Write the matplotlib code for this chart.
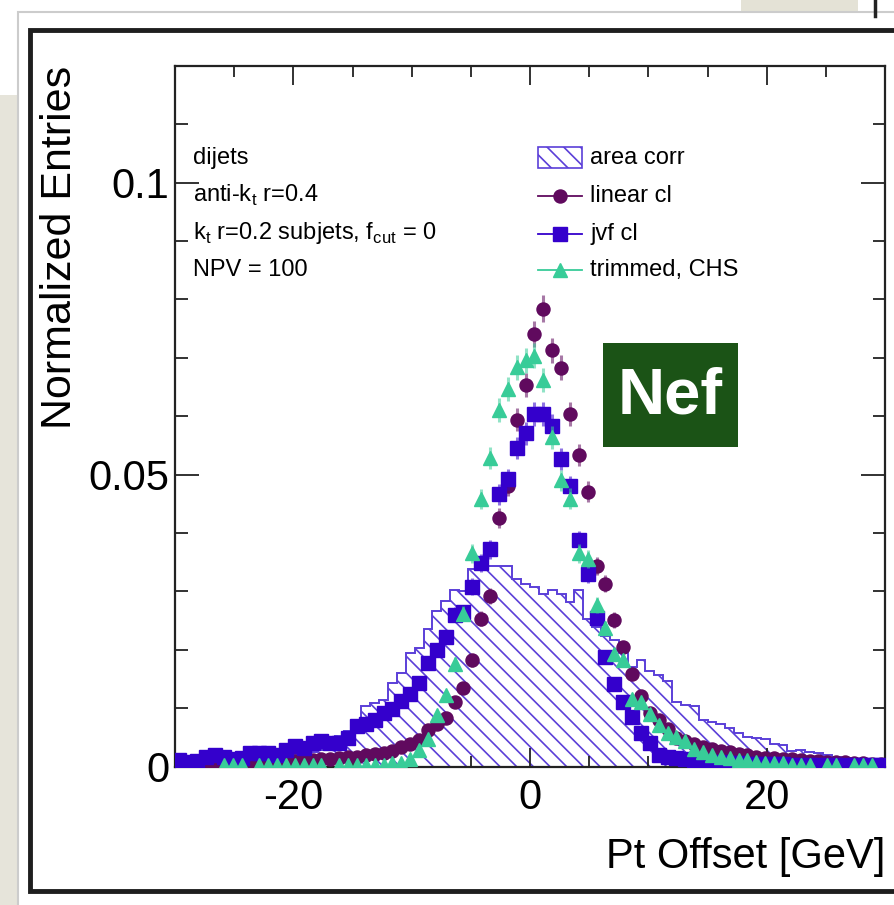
import numpy as np
import matplotlib
matplotlib.use("Agg")
import matplotlib.pyplot as plt
from matplotlib.patches import Rectangle
from matplotlib.lines import Line2D
from matplotlib.colors import to_rgba

plt.rcParams['font.family'] = ['Liberation Sans', 'DejaVu Sans']
plt.rcParams['mathtext.fontset'] = 'custom'
plt.rcParams['mathtext.rm'] = 'Liberation Sans'
plt.rcParams['hatch.linewidth'] = 1.2
plt.rcParams['axes.unicode_minus'] = False

# ---- binning: 80 bins of 0.75 GeV over [-30, 30] ----
bin_edges = np.linspace(-30, 30, 81)
bin_centers = 0.5 * (bin_edges[:-1] + bin_edges[1:])

area_corr = [
    0.0006, 0.0006, 0.0007, 0.0008, 0.0008, 0.0009, 0.0010, 0.0011, 0.0012, 0.0013,
    0.0014, 0.0015, 0.0017, 0.0019, 0.0020, 0.0025, 0.0029, 0.0042, 0.0053, 0.0060,
    0.0080, 0.0103, 0.0109, 0.0114, 0.0143, 0.0160, 0.0194, 0.0203, 0.0235, 0.0266,
    0.0283, 0.0303, 0.0300, 0.0338, 0.0338, 0.0343, 0.0344, 0.0344, 0.0322, 0.0312,
    0.0307, 0.0296, 0.0303, 0.0296, 0.0281, 0.0302, 0.0252, 0.0239, 0.0224, 0.0217,
    0.0194, 0.0170, 0.0182, 0.0163, 0.0156, 0.0146, 0.0111, 0.0106, 0.0104, 0.0080,
    0.0076, 0.0073, 0.0066, 0.0058, 0.0051, 0.0048, 0.0047, 0.0039, 0.0037, 0.0027,
    0.0028, 0.0024, 0.0023, 0.0020, 0.0016, 0.0014, 0.0012, 0.0010, 0.0008, 0.0007,
]

linear_cl = [
    0.0005, 0.0004, 0.0005, 0.0006, 0.0006, 0.0007, 0.0008, 0.0007, 0.0008, 0.0008,
    0.0009, 0.0009, 0.0010, 0.0010, 0.0011, 0.0011, 0.0012, 0.0013, 0.0014, 0.0016,
    0.0017, 0.0019, 0.0021, 0.0023, 0.0027, 0.0033, 0.0039, 0.0046, 0.0062, 0.0073,
    0.0083, 0.0110, 0.0134, 0.0182, 0.0253, 0.0292, 0.0426, 0.0481, 0.0594, 0.0654,
    0.0741, 0.0784, 0.0713, 0.0683, 0.0604, 0.0534, 0.0471, 0.0344, 0.0313, 0.0251,
    0.0204, 0.0158, 0.0121, 0.0091, 0.0080, 0.0064, 0.0048, 0.0043, 0.0038, 0.0034,
    0.0030, 0.0027, 0.0024, 0.0021, 0.0019, 0.0017, 0.0015, 0.0014, 0.0013, 0.0012,
    0.0011, 0.0010, 0.0009, 0.0008, 0.0008, 0.0007, 0.0006, 0.0006, 0.0005, 0.0005,
]

jvf_cl = [
    0.0011, 0.0008, 0.0009, 0.0016, 0.0020, 0.0017, 0.0013, 0.0015, 0.0023, 0.0023,
    0.0023, 0.0020, 0.0028, 0.0035, 0.0031, 0.0040, 0.0043, 0.0041, 0.0040, 0.0048,
    0.0070, 0.0072, 0.0080, 0.0092, 0.0098, 0.0112, 0.0125, 0.0143, 0.0178, 0.0200,
    0.0222, 0.0260, 0.0264, 0.0308, 0.0349, 0.0372, 0.0466, 0.0492, 0.0545, 0.0571,
    0.0604, 0.0604, 0.0584, 0.0527, 0.0480, 0.0388, 0.0329, 0.0255, 0.0188, 0.0142,
    0.0110, 0.0085, 0.0057, 0.0040, 0.0020, 0.0016, 0.0014, 0.0012, 0.0011, 0.0009,
    0.0008, 0.0007, 0.0006, 0.0006, 0.0005, 0.0005, 0.0004, 0.0004, 0.0004, 0.0003,
    0.0003, 0.0003, 0.0003, 0.0002, 0.0002, 0.0003, 0.0002, 0.0002, 0.0002, 0.0002,
]

trimmed_chs = [
    0.0, 0.0, 0.0, 0.0, 0.0, 0.0003, 0.0003, 0.0003, 0.0, 0.0003,
    0.0003, 0.0003, 0.0003, 0.0003, 0.0003, 0.0003, 0.0003, 0.0, 0.0003, 0.0003,
    0.0003, 0.0003, 0.0003, 0.0003, 0.0006, 0.0006, 0.0012, 0.0028, 0.0047, 0.0088,
    0.0122, 0.0176, 0.0262, 0.0365, 0.0458, 0.0528, 0.0611, 0.0647, 0.0684, 0.0696,
    0.0704, 0.0662, 0.0564, 0.0490, 0.0459, 0.0365, 0.0356, 0.0276, 0.0237, 0.0192,
    0.0182, 0.0115, 0.0111, 0.0090, 0.0071, 0.0058, 0.0050, 0.0043, 0.0030, 0.0025,
    0.0020, 0.0017, 0.0014, 0.0011, 0.0011, 0.0008, 0.0006, 0.0006, 0.0006, 0.0003,
    0.0003, 0.0003, 0.0, 0.0003, 0.0003, 0.0, 0.0003, 0.0003, 0.0003, 0.0,
]

series_labels = ["area corr", "linear cl", "jvf cl", "trimmed, CHS"]
info_lines = ["dijets", r"anti-k$_{\mathregular{t}}$ r=0.4",
              r"k$_{\mathregular{t}}$ r=0.2 subjets, f$_{\mathregular{cut}}$ = 0",
              "NPV = 100"]
x_ticks = [-20, 0, 20]
y_ticks = [0, 0.05, 0.1]
y_tick_labels = ["0", "0.05", "0.1"]

c_area = '#5b3fd8'
c_lin = '#600a5e'
c_jvf = '#3400cc'
c_trim = '#38cc98'
HATCH = '\\\\'

n_entries = 15000.0  # sets the statistical error bar size

W, H = 894, 905
fig = plt.figure(figsize=(W / 100, H / 100), dpi=100)

# page decoration in pixel coordinates
bg = fig.add_axes([0, 0, 1, 1], zorder=0)
bg.set_xlim(0, W)
bg.set_ylim(H, 0)
bg.axis('off')
bg.add_patch(Rectangle((0, 95), 22, 810, facecolor='#e6e4da', edgecolor='none'))
bg.add_patch(Rectangle((741, 0), 117, 15, facecolor='#e4e2d6', edgecolor='none'))
bg.plot([875, 875], [0, 16], color='#222222', lw=2.5)
bg.add_patch(Rectangle((18, 12), 900, 900, facecolor='white', edgecolor='#cccccc', lw=1.5))
bg.add_patch(Rectangle((30, 30), 900, 861, facecolor='white', edgecolor='#1e1e1e', lw=3.5))

L, R, T, B = 175, 885, 66, 766.5
ax = fig.add_axes([L / W, 1 - B / H, (R - L) / W, (B - T) / H], zorder=2)
ax.set_xlim(-30, 30)
ax.set_ylim(0, 0.12)

ax.stairs(area_corr, bin_edges, fill=True, facecolor='none', edgecolor=c_area,
          hatch=HATCH, linewidth=1.4, zorder=1)


def draw_points(vals, color, marker, ms, z):
    v = np.asarray(vals, dtype=float)
    m = v > 0
    err = np.sqrt(v[m] / n_entries)
    ax.errorbar(bin_centers[m], v[m], yerr=err, fmt=marker, color=color, ms=ms,
                mec=color, mfc=color, ecolor=to_rgba(color, 0.55), elinewidth=2.2,
                capsize=0, zorder=z)


draw_points(linear_cl, c_lin, 'o', 9.4, 3)
draw_points(jvf_cl, c_jvf, 's', 9.6, 4)
draw_points(trimmed_chs, c_trim, '^', 9.6, 5)

ax.set_xticks(x_ticks)
ax.set_xticks(np.arange(-25, 30, 5), minor=True)
ax.set_yticks(y_ticks)
ax.set_yticklabels(y_tick_labels)
ax.set_yticks(np.arange(0, 0.121, 0.01), minor=True)
ax.tick_params(which='both', direction='in', top=True, right=True, width=1.3,
               colors='#222222', labelcolor='black', labelsize=30)
ax.tick_params(axis='x', which='major', length=14, pad=8)
ax.tick_params(axis='x', which='minor', length=8)
ax.tick_params(axis='y', which='major', length=17, pad=4)
ax.tick_params(axis='y', which='minor', length=9)
for s in ax.spines.values():
    s.set_linewidth(1.6)
    s.set_color('#222222')

ax.set_xlabel("Pt Offset [GeV]", fontsize=30, loc='right', labelpad=14)
fig.text(60 / W, 1 - 66 / H, "Normalized Entries", rotation=90, fontsize=31,
         ha='center', va='top')


def axfrac(px, py):
    return (px - L) / (R - L), (B - py) / (B - T)


# info text block
for i, line in enumerate(info_lines):
    x, y = axfrac(193, 158 + 37.5 * i)
    ax.text(x, y, line, transform=ax.transAxes, fontsize=17, ha='left',
            va='center', zorder=6)

# legend
ys = [158, 196, 234, 270]
x0, y0 = axfrac(538, 168)
x1, y1 = axfrac(582, 147)
ax.add_patch(Rectangle((x0, y0), x1 - x0, y1 - y0, transform=ax.transAxes,
                       facecolor='none', edgecolor=c_area, hatch=HATCH, lw=1.2,
                       zorder=6))
for (col, mk), yy in zip([(c_lin, 'o'), (c_jvf, 's'), (c_trim, '^')], ys[1:]):
    xa, ya = axfrac(538, yy)
    xb, _ = axfrac(582, yy)
    xm, _ = axfrac(560, yy)
    ax.add_line(Line2D([xa, xb], [ya, ya], color=col, lw=1.3, transform=ax.transAxes,
                       zorder=6))
    ax.add_line(Line2D([xm], [ya], marker=mk, ms=9.4, color=col, transform=ax.transAxes,
                       zorder=7, ls='none'))
for lab, yy in zip(series_labels, ys):
    x, y = axfrac(590, yy)
    ax.text(x, y, lab, transform=ax.transAxes, fontsize=17, ha='left', va='center',
            zorder=6)

# Nef badge
fg = fig.add_axes([0, 0, 1, 1], zorder=5)
fg.set_xlim(0, W)
fg.set_ylim(H, 0)
fg.axis('off')
fg.patch.set_alpha(0)
fg.add_patch(Rectangle((603, 343), 135, 104, facecolor='#1b5316', edgecolor='none'))
fg.text(670.5, 396, "Nef", color='white', fontsize=47, fontweight='bold',
        ha='center', va='center')

fig.savefig("out.png", dpi=100)
